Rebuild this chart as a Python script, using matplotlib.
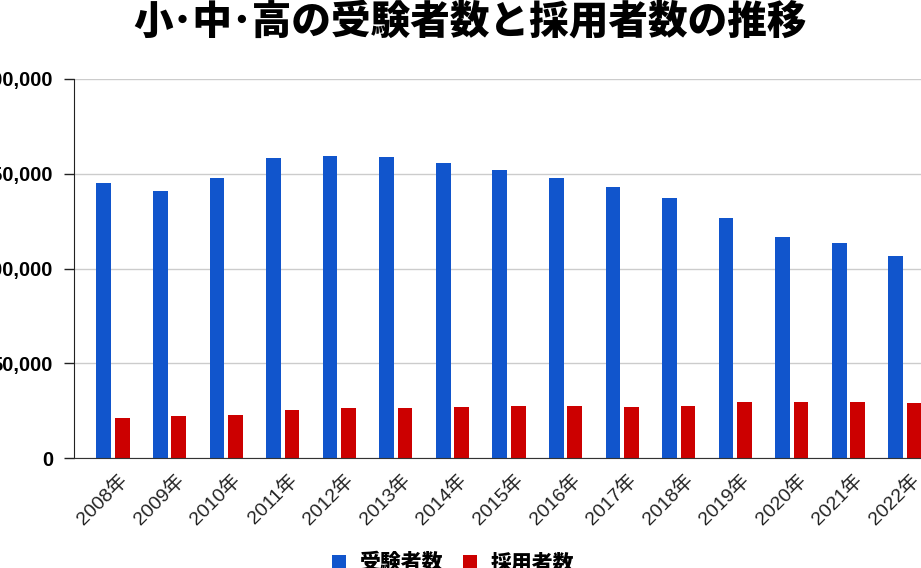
import numpy as np
import matplotlib.pyplot as plt
import matplotlib.transforms as mtransforms
from matplotlib.ticker import FuncFormatter

# data
years = ['2008年', '2009年', '2010年', '2011年', '2012年', '2013年', '2014年', '2015年',
         '2016年', '2017年', '2018年', '2019年', '2020年', '2021年', '2022年']
applicants = [145000, 140900, 147700, 158300, 159300, 158800, 155600, 152000,
              147700, 143000, 137200, 126600, 116600, 113500, 106600]
hired = [21100, 22100, 22700, 25300, 26300, 26300, 26800, 27400,
         27400, 26900, 27400, 29500, 29500, 29500, 29000]

plt.rcParams['font.family'] = ['Liberation Sans', 'Noto Sans CJK JP', 'DejaVu Sans']

blue = '#1155cc'
red = '#cc0000'

fig = plt.figure(figsize=(9.21, 5.68), dpi=100)
W, H = 921.0, 568.0
# plot area runs past the right edge of the picture, like the cropped original
ax = fig.add_axes([74 / W, 110 / H, (944 - 74) / W, 379 / H])

x = np.arange(len(years))
bw = 0.26
ax.bar(x - 0.163, applicants, bw, color=blue, label='受験者数', zorder=3)
ax.bar(x + 0.163, hired, bw, color=red, label='採用者数', zorder=3)

ax.set_xlim(-0.69, len(years) - 1 + 0.69)
ax.set_ylim(0, 200000)
ax.set_yticks([0, 50000, 100000, 150000, 200000])
ax.yaxis.set_major_formatter(FuncFormatter(lambda v, p: '{:,.0f}'.format(v)))
ax.grid(axis='y', color='#cccccc', linewidth=1, zorder=0)

for s in ['top', 'right']:
    ax.spines[s].set_visible(False)
ax.spines['left'].set_color('#222222')
ax.spines['bottom'].set_color('#333333')
ax.spines['bottom'].set_zorder(4)

ax.tick_params(axis='y', length=7, width=1, color='#222222', pad=8)
for lab in ax.get_yticklabels():
    lab.set_fontsize(14.5)
    lab.set_fontweight('bold')

ax.set_xticks(x)
ax.set_xticklabels(years, rotation=45, ha='right', rotation_mode='anchor', fontsize=14,
                   color='#222222')
ax.tick_params(axis='x', length=0, pad=9)
shift = mtransforms.ScaledTranslation(5 / 100, 0, fig.dpi_scale_trans)
for lab in ax.get_xticklabels():
    lab.set_transform(lab.get_transform() + shift)

fig.text(470 / W, 1 - 22 / H, '小･中･高の受験者数と採用者数の推移', ha='center', va='center',
         fontsize=28.5, fontweight='heavy', family=['Noto Sans CJK JP', 'DejaVu Sans'])

leg = fig.legend(loc='center', bbox_to_anchor=(453 / W, 1 - 563 / H), ncol=2, frameon=False,
                 handlelength=0.67, handleheight=0.67, handletextpad=0.63, columnspacing=1.0,
                 borderpad=0,
                 prop={'family': ['Noto Sans CJK JP'], 'weight': 'heavy', 'size': 15})

fig.savefig('out.png', dpi=100)
